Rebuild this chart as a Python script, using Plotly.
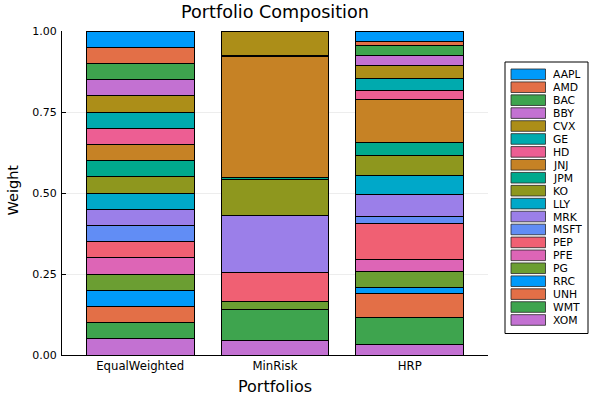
import plotly.graph_objects as go

portfolios = ["EqualWeighted", "MinRisk", "HRP"]
assets = ["AAPL", "AMD", "BAC", "BBY", "CVX", "GE", "HD", "JNJ", "JPM", "KO",
          "LLY", "MRK", "MSFT", "PEP", "PFE", "PG", "RRC", "UNH", "WMT", "XOM"]

equal_weighted = [0.05] * 20
min_risk = [0.0, 0.0, 0.0, 0.0, 0.075, 0.005, 0.0, 0.371, 0.008, 0.111,
            0.0, 0.175, 0.0, 0.090, 0.0, 0.024, 0.0, 0.0, 0.095, 0.046]
hrp = [0.032, 0.012, 0.033, 0.030, 0.039, 0.039, 0.026, 0.132, 0.040, 0.062,
       0.061, 0.066, 0.021, 0.112, 0.036, 0.050, 0.019, 0.074, 0.083, 0.033]

palette = ["#009AFA", "#E36F47", "#3EA44E", "#C371D2", "#AC8E18", "#00AAAE",
           "#ED5E93", "#C68225", "#00A98D", "#8E971E", "#00A8C9", "#9B7FE9",
           "#618DF5", "#F06073", "#DD65B6", "#6B9E32"]

W, H = 600, 400
L, R, T, B = 62, 488, 31, 355  # plot area in pixels


def px(x):
    return (x - L) / (R - L)


def py(y):
    return (B - y) / (B - T)


fig = go.Figure()
# add from last asset so XOM sits at the bottom of the stack
for i in reversed(range(len(assets))):
    fig.add_trace(go.Bar(
        x=portfolios,
        y=[equal_weighted[i], min_risk[i], hrp[i]],
        name=assets[i],
        marker=dict(color=palette[i % len(palette)],
                    line=dict(color="black", width=1)),
        width=0.8,
        showlegend=False,
    ))

font = "DejaVu Sans"

# legend drawn as shapes + text so its compact spacing matches
shapes = [dict(type="rect", xref="paper", yref="paper",
               x0=px(505), x1=px(588), y0=py(62), y1=py(333.5),
               line=dict(color="black", width=1), fillcolor="white", layer="above")]
annotations = []
for i, name in enumerate(assets):
    cy = 74.3 + i * 12.93
    shapes.append(dict(type="rect", xref="paper", yref="paper",
                       x0=px(511), x1=px(545.5), y0=py(cy - 5.3), y1=py(cy + 5.3),
                       line=dict(color="rgba(40,40,40,0.8)", width=1),
                       fillcolor=palette[i % len(palette)], layer="above"))
    annotations.append(dict(text=name, xref="paper", yref="paper",
                            x=px(551.5), y=py(cy), xanchor="left", yanchor="middle",
                            height=12, valign="middle", borderpad=0,
                            showarrow=False, font=dict(size=10.8, family=font, color="black")))

annotations.append(dict(text="Portfolios", xref="paper", yref="paper",
                        x=px(275), y=py(386.5), xanchor="center", yanchor="middle",
                        showarrow=False, font=dict(size=16, family=font, color="black")))
annotations.append(dict(text="Weight", xref="paper", yref="paper", textangle=-90,
                        x=px(12.5), y=py(190), xanchor="center", yanchor="middle",
                        showarrow=False, font=dict(size=14.5, family=font, color="black")))

fig.update_layout(
    barmode="stack",
    width=W, height=H,
    margin=dict(l=L, r=W - R, t=T, b=H - B),
    paper_bgcolor="white", plot_bgcolor="white",
    font=dict(family=font, color="black"),
    title=dict(text="Portfolio Composition", x=(L + R) / 2 / W, xanchor="center",
               y=1 - 12 / H, yanchor="middle", font=dict(size=17.6, family=font)),
    showlegend=False,
    bargap=0.2,
    shapes=shapes,
    annotations=annotations,
)
fig.update_xaxes(
    range=[-0.58, 2.58], showline=True, linecolor="black", linewidth=1,
    ticks="", showgrid=False, automargin=False,
    tickfont=dict(size=11.7, family=font),
)
fig.update_yaxes(
    range=[0, 1.0], showline=True, linecolor="black", linewidth=1,
    tickvals=[0, 0.25, 0.5, 0.75, 1.0], ticktext=["0.00", "0.25", "0.50", "0.75", "1.00"],
    ticks="inside", ticklen=4, tickcolor="black", automargin=False,
    showgrid=True, gridcolor="rgba(0,0,0,0.07)", zeroline=False,
    tickfont=dict(size=11, family=font), ticklabelstandoff=2,
)

fig.write_html("out.html", config={"displayModeBar": False},
               post_script="document.body.style.margin='0';")
